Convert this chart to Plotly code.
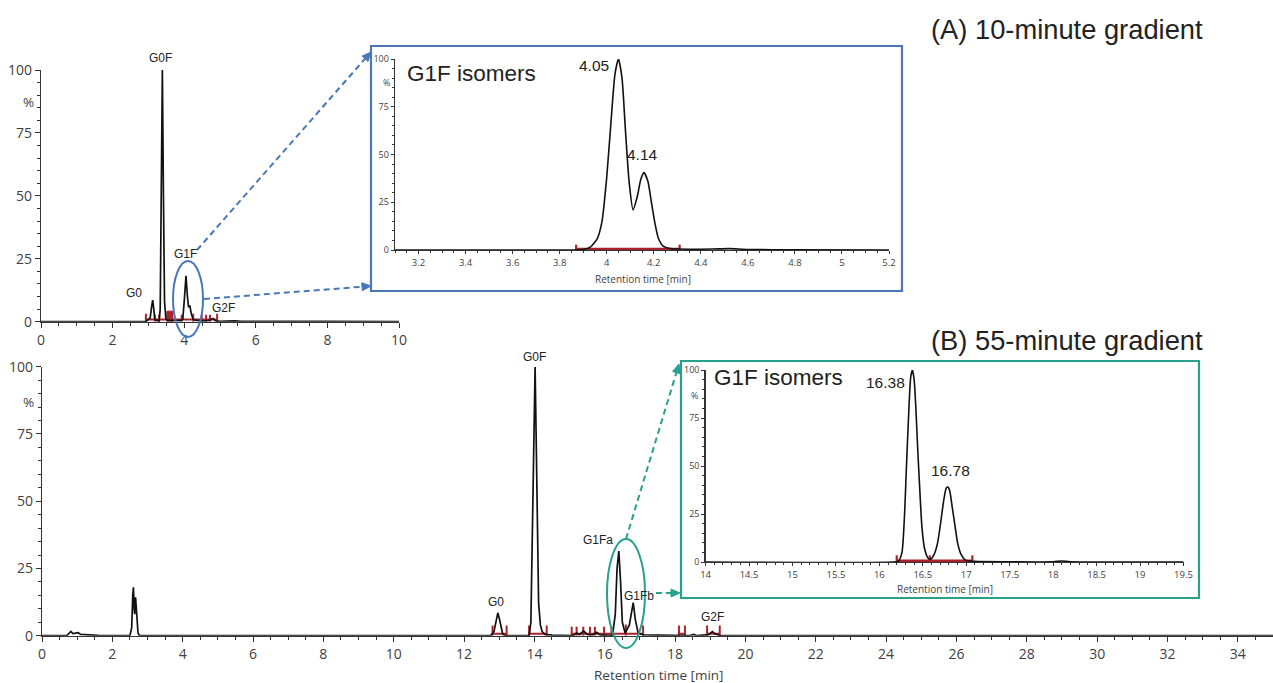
import math
import plotly.graph_objects as go

# ---------------- data ----------------
# (A) 10-minute gradient, full chromatogram
A_time = [0.0, 2.90, 2.95, 3.05, 3.09, 3.12, 3.15, 3.18, 3.22, 3.30, 3.33, 3.36, 3.39, 3.42, 3.45, 3.49, 3.55,
          3.90, 3.96, 4.00, 4.05, 4.09, 4.12, 4.16, 4.20, 4.25, 4.32, 4.60, 4.70, 4.80, 4.88, 5.00, 5.40, 5.60,
          7.50, 7.70, 7.90, 10.0]
A_signal = [0.0, 0.0, 0.3, 1.5, 6.0, 8.6, 5.0, 1.0, 0.5, 0.3, 5.0, 50.0, 100.0, 50.0, 8.0, 1.0, 0.5,
            0.4, 1.0, 8.0, 18.2, 10.0, 6.0, 6.2, 3.0, 1.0, 0.5, 0.3, 0.5, 1.3, 0.3, 0.1, 0.3, 0.1,
            0.2, 0.3, 0.1, 0.0]
A_int_ticks = [2.93, 3.18, 3.30, 3.53, 3.65, 3.93, 4.25, 4.49, 4.61, 4.72, 4.92]
A_int_tick_h = [3.2, 2.8, 2.8, 4.2, 4.2, 2.8, 3.2, 2.8, 2.8, 2.8, 3.2]
A_int_seg_start = [2.93]
A_int_seg_end = [4.92]
A_block_time = [3.53, 3.53, 3.68, 3.68]
A_block_level = [0.0, 4.2, 4.2, 0.0]

# (A) inset: G1F isomers
Ai_time = [3.10, 3.85, 3.90, 3.93, 3.96, 3.98, 4.00, 4.02, 4.035, 4.05, 4.065, 4.08, 4.095, 4.112, 4.13,
           4.145, 4.158, 4.175, 4.19, 4.205, 4.22, 4.24, 4.27, 4.35, 4.45, 4.52, 4.60, 4.80, 5.20]
Ai_signal = [0.0, 0.0, 0.3, 1.5, 6.0, 15.0, 38.0, 70.0, 92.0, 100.0, 90.0, 62.0, 36.0, 21.0, 28.0,
             37.0, 40.5, 36.0, 25.0, 14.0, 6.0, 2.0, 0.8, 0.4, 0.5, 0.7, 0.3, 0.1, 0.0]
Ai_int_ticks = [3.87, 4.31]
Ai_int_tick_h = [2.8, 2.8]
Ai_int_seg_start = [3.87]
Ai_int_seg_end = [4.31]

# (B) 55-minute gradient, full chromatogram
B_time = [0.0, 0.70, 0.78, 0.82, 0.88, 0.95, 1.03, 1.10, 1.20, 1.35, 1.60, 2.50, 2.55, 2.58, 2.60, 2.62,
          2.635, 2.66, 2.69, 2.73, 2.77, 12.75, 12.85, 12.90, 12.96, 13.01, 13.06, 13.10, 13.20,
          13.85, 13.90, 13.93, 13.96, 14.02, 14.06, 14.09, 14.12, 14.17, 14.22, 14.30, 14.50,
          15.10, 15.20, 15.28, 15.40, 15.50, 15.65, 15.77, 15.87, 16.22, 16.30, 16.35, 16.40, 16.45,
          16.50, 16.58, 16.70, 16.81, 16.87, 16.95, 17.10, 18.40, 18.53, 18.62, 18.95, 19.06, 19.15,
          19.30, 35.0]
B_signal = [0.0, 0.0, 1.0, 1.6, 0.8, 0.9, 1.1, 0.5, 0.4, 0.2, 0.1, 0.0, 3.0, 15.0, 18.0, 10.0,
            8.0, 14.3, 8.0, 1.0, 0.0, 0.0, 1.5, 5.0, 8.5, 6.0, 2.0, 0.5, 0.0,
            0.0, 5.0, 30.0, 65.0, 100.0, 65.0, 30.0, 12.0, 4.0, 1.5, 0.5, 0.2,
            0.0, 1.0, 0.4, 1.8, 0.5, 0.3, 1.3, 0.3, 0.0, 8.0, 25.0, 31.5, 20.0,
            5.0, 1.0, 4.0, 12.3, 6.0, 1.0, 0.3, 0.0, 0.5, 0.0, 0.4, 1.5, 0.6,
            0.0, 0.0]
B_int_ticks = [12.81, 13.21, 13.85, 14.35, 15.06, 15.20, 15.39, 15.58, 15.72, 15.98, 16.19, 16.60, 17.09,
               18.11, 18.28, 18.91, 19.27]
B_int_tick_h = [3.8, 3.8, 3.8, 3.8, 3.3, 3.3, 3.3, 3.3, 3.3, 3.3, 3.3, 4.2, 3.8,
                3.8, 3.8, 3.8, 3.8]
B_int_seg_start = [12.81, 13.85, 15.06, 18.11, 18.91]
B_int_seg_end = [13.21, 14.35, 17.09, 18.28, 19.27]

# (B) inset: G1F isomers
Bi_time = [14.0, 16.15, 16.22, 16.26, 16.29, 16.31, 16.34, 16.36, 16.38, 16.40, 16.42, 16.44, 16.46, 16.49,
           16.52, 16.56, 16.59, 16.63, 16.67, 16.71, 16.74, 16.77, 16.79, 16.81, 16.84, 16.87, 16.90,
           16.94, 16.99, 17.10, 17.50, 18.00, 18.10, 18.20, 19.50]
Bi_signal = [0.0, 0.0, 0.5, 5.0, 25.0, 48.0, 80.0, 96.0, 100.0, 95.0, 80.0, 60.0, 42.0, 18.0,
             7.0, 2.0, 1.5, 4.0, 10.0, 22.0, 32.0, 38.5, 39.0, 37.0, 28.0, 19.0, 10.0,
             4.0, 1.0, 0.3, 0.1, 0.1, 0.5, 0.1, 0.0]
Bi_int_ticks = [16.20, 16.58, 17.07]
Bi_int_tick_h = [3.5, 3.5, 3.5]
Bi_int_seg_start = [16.20]
Bi_int_seg_end = [17.07]

pct_ticks = [0, 25, 50, 75, 100]
A_xticks = [0, 2, 4, 6, 8, 10]
Ai_xticks = [3.2, 3.4, 3.6, 3.8, 4.0, 4.2, 4.4, 4.6, 4.8, 5.0, 5.2]
Ai_xticklabels = ["3.2", "3.4", "3.6", "3.8", "4", "4.2", "4.4", "4.6", "4.8", "5", "5.2"]
B_xticks = list(range(0, 35, 2))
Bi_xticks = [14, 14.5, 15, 15.5, 16, 16.5, 17, 17.5, 18, 18.5, 19, 19.5]

A_peak_names = ["G0", "G0F", "G1F", "G2F"]
B_peak_names = ["G0", "G0F", "G1Fa", "G1Fb", "G2F"]
Ai_peak_labels = ["4.05", "4.14"]
Bi_peak_labels = ["16.38", "16.78"]

# ---------------- styling / layout ----------------
W, H = 1273, 683
BLACK = "#111111"
RED = "#a8232b"
BLUE = "#4a77b9"
TEAL = "#27a08c"
AXIS = "#333333"
TICKC = "#3f3f3f"
TXT = "#222222"
TICKFONT = "Open Sans"
LABFONT = "Liberation Sans, Arial, sans-serif"


def X(p):
    return p / W


def Y(p):
    return 1 - p / H


def integration(ticks, heights, seg_start, seg_end, level):
    xs, ys = [], []
    for t, h in zip(ticks, heights):
        xs += [t, t, None]
        ys += [0, h, None]
    bx, by = [], []
    for s, e in zip(seg_start, seg_end):
        bx += [s, e, None]
        by += [level, level, None]
    return (xs, ys), (bx, by)


fig = go.Figure()


def add_panel(xa, ya, t, s, ticks, th, ss, se, level, lw, redw, basew, spline=False):
    (tx, ty), (bx, by) = integration(ticks, th, ss, se, level)
    fig.add_trace(go.Scatter(x=bx, y=by, mode="lines", line=dict(color=RED, width=basew),
                             xaxis=xa, yaxis=ya, hoverinfo="skip", showlegend=False))
    fig.add_trace(go.Scatter(x=tx, y=ty, mode="lines", line=dict(color=RED, width=redw),
                             xaxis=xa, yaxis=ya, hoverinfo="skip", showlegend=False))
    line = dict(color=BLACK, width=lw)
    if spline:
        line.update(shape="spline", smoothing=0.6)
    fig.add_trace(go.Scatter(x=t, y=s, mode="lines", line=line, xaxis=xa, yaxis=ya,
                             showlegend=False))


# red block in panel A
fig.add_trace(go.Scatter(x=A_block_time, y=A_block_level, mode="lines", fill="toself",
                         fillcolor=RED, line=dict(color=RED, width=1), xaxis="x", yaxis="y",
                         hoverinfo="skip", showlegend=False))
add_panel("x", "y", A_time, A_signal, A_int_ticks, A_int_tick_h, A_int_seg_start, A_int_seg_end,
          0.9, 1.7, 2.0, 2.0)
add_panel("x2", "y2", Ai_time, Ai_signal, Ai_int_ticks, Ai_int_tick_h, Ai_int_seg_start, Ai_int_seg_end,
          0.5, 1.6, 2.2, 2.8, spline=True)
add_panel("x3", "y3", B_time, B_signal, B_int_ticks, B_int_tick_h, B_int_seg_start, B_int_seg_end,
          0.7, 1.7, 2.0, 2.0)
add_panel("x4", "y4", Bi_time, Bi_signal, Bi_int_ticks, Bi_int_tick_h, Bi_int_seg_start, Bi_int_seg_end,
          0.6, 1.6, 2.2, 2.8, spline=True)


def xaxis(dom, rng, tickvals, ticktext, fsize, minor_dt, anchor, ticklen):
    d = dict(domain=[X(dom[0]), X(dom[1])], range=rng, anchor=anchor, showline=True,
             linecolor=AXIS, linewidth=1.3, ticks="outside", ticklen=ticklen, tickcolor=AXIS,
             tickwidth=1, tickvals=tickvals,
             tickfont=dict(size=fsize, color=TICKC, family=TICKFONT),
             minor=dict(dtick=minor_dt, ticklen=max(2, ticklen - 2), tickcolor=AXIS, ticks="outside"),
             showgrid=False, zeroline=False, automargin=False, fixedrange=True)
    if ticktext is not None:
        d["ticktext"] = ticktext
    return d


def yaxis(dom, fsize, anchor, ticklen):
    return dict(domain=[Y(dom[1]), Y(dom[0])], range=[0, 100], anchor=anchor, showline=True,
                linecolor=AXIS, linewidth=1.3, ticks="outside", ticklen=ticklen, tickcolor=AXIS,
                tickwidth=1, tickvals=pct_ticks,
                tickfont=dict(size=fsize, color=TICKC, family=TICKFONT),
                minor=dict(dtick=5, ticklen=max(2, ticklen - 2), tickcolor=AXIS, ticks="outside"),
                showgrid=False, zeroline=False, automargin=False, fixedrange=True)


layout = dict(
    width=W, height=H, margin=dict(l=0, r=0, t=0, b=0),
    paper_bgcolor="white", plot_bgcolor="rgba(0,0,0,0)",
    xaxis=xaxis((41, 399), [0, 10], A_xticks, None, 14, 0.5, "y", 5),
    yaxis=yaxis((70, 321.7), 14, "x", 5),
    xaxis2=xaxis((395, 889), [3.1, 5.2], Ai_xticks, Ai_xticklabels, 9.5, 0.05, "y2", 3),
    yaxis2=yaxis((59, 250), 9, "x2", 3),
    xaxis3=xaxis((42, 1273), [0, 35], B_xticks, None, 14, 0.5, "y3", 5),
    yaxis3=yaxis((366.7, 635.7), 14, "x3", 5),
    xaxis4=xaxis((705.6, 1183.5), [14, 19.5], Bi_xticks, None, 9.5, 0.1, "y4", 3),
    yaxis4=yaxis((370, 562), 9, "x4", 3),
)
fig.update_layout(**layout)

shapes = []
# inset boxes
shapes.append(dict(type="rect", xref="paper", yref="paper", x0=X(371), x1=X(902), y0=Y(291), y1=Y(46),
                   line=dict(color=BLUE, width=2.2), fillcolor="rgba(0,0,0,0)", layer="above"))
shapes.append(dict(type="rect", xref="paper", yref="paper", x0=X(681), x1=X(1199), y0=Y(598), y1=Y(361),
                   line=dict(color=TEAL, width=2.2), fillcolor="rgba(0,0,0,0)", layer="above"))
# ellipses
shapes.append(dict(type="circle", xref="paper", yref="paper", x0=X(173), x1=X(203), y0=Y(337), y1=Y(261),
                   line=dict(color=BLUE, width=2), layer="above"))
shapes.append(dict(type="circle", xref="paper", yref="paper", x0=X(607), x1=X(645), y0=Y(648), y1=Y(539),
                   line=dict(color=TEAL, width=2), layer="above"))


def dashed_arrow(p0, p1, color):
    x0, y0 = p0
    x1, y1 = p1
    dx, dy = x1 - x0, y1 - y0
    L = math.hypot(dx, dy)
    ux, uy = dx / L, dy / L
    hl, hw = 9.0, 4.0
    bx, by = x1 - ux * hl, y1 - uy * hl
    shapes.append(dict(type="line", xref="paper", yref="paper", x0=X(x0), y0=Y(y0), x1=X(bx), y1=Y(by),
                       line=dict(color=color, width=2, dash="6px,4px"), layer="above"))
    px_, py_ = -uy, ux
    path = "M {} {} L {} {} L {} {} Z".format(
        X(x1), Y(y1), X(bx + px_ * hw), Y(by + py_ * hw), X(bx - px_ * hw), Y(by - py_ * hw))
    shapes.append(dict(type="path", xref="paper", yref="paper", path=path,
                       line=dict(color=color, width=1), fillcolor=color, layer="above"))


dashed_arrow((197, 250), (371, 52), BLUE)
dashed_arrow((204, 299), (371, 286), BLUE)
dashed_arrow((626, 539), (679, 364), TEAL)
dashed_arrow((656, 593), (680, 593), TEAL)

fig.update_layout(shapes=shapes)

ann = []


def text(x, y, s, size, anchor="center", family=LABFONT, color=TXT):
    ann.append(dict(xref="paper", yref="paper", x=X(x), y=Y(y), text=s, showarrow=False,
                    xanchor=anchor, yanchor="middle", font=dict(size=size, family=family, color=color)))


# headers
text(1205, 30, "(A) 10-minute gradient", 27.3, "right")
text(1205, 340, "(B) 55-minute gradient", 27.3, "right")

# peak names
for name, (x, y) in zip(A_peak_names, [(134, 293), (160, 58), (185, 254), (223, 308)]):
    text(x, y, name, 12)
for name, (x, y) in zip(B_peak_names, [(496, 602), (534, 357), (598, 540), (639, 596), (712, 617)]):
    text(x, y, name, 12)

# inset titles and peak labels
text(405, 73, "G1F isomers", 22.5, "left")
text(712, 377, "G1F isomers", 22.5, "left")
for lab, (x, y) in zip(Ai_peak_labels, [(594, 65), (642, 155)]):
    text(x, y, lab, 15.5)
for lab, (x, y) in zip(Bi_peak_labels, [(885, 382), (950, 470)]):
    text(x, y, lab, 15.5)

# axis titles and % labels
text(643, 279, "Retention time [min]", 10, family=TICKFONT, color=TICKC)
text(945, 589, "Retention time [min]", 10, family=TICKFONT, color=TICKC)
text(659, 675, "Retention time [min]", 13.5, family=TICKFONT, color=TICKC)
text(28, 102, "%", 13.5, family=TICKFONT, color=TICKC)
text(28, 402, "%", 13.5, family=TICKFONT, color=TICKC)
text(386, 83, "%", 9, family=TICKFONT, color=TICKC)
text(695, 395, "%", 9, family=TICKFONT, color=TICKC)

fig.update_layout(annotations=ann)

fig.write_html("out.html", config={"displayModeBar": False, "staticPlot": True},
               post_script="document.body.style.margin='0';document.body.style.overflow='hidden';")
